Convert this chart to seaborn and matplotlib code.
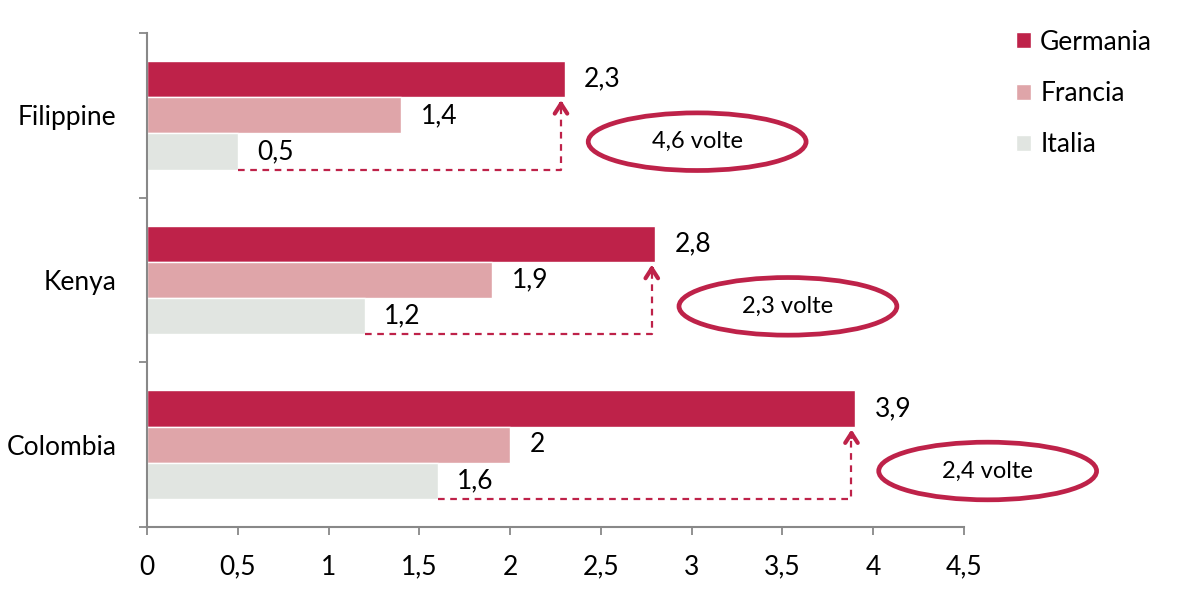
import pandas as pd
import matplotlib.pyplot as plt
import seaborn as sns
from matplotlib.patches import Ellipse

# data
countries = ["Filippine", "Kenya", "Colombia"]
germania = [2.3, 2.8, 3.9]
francia = [1.4, 1.9, 2.0]
italia = [0.5, 1.2, 1.6]
ratio_labels = ["4,6 volte", "2,3 volte", "2,4 volte"]
x_ticks = [0, 0.5, 1, 1.5, 2, 2.5, 3, 3.5, 4, 4.5]

series = ["Germania", "Francia", "Italia"]
colors = ["#BE2249", "#DFA5A9", "#E1E5E1"]
accent = "#BE2249"

df = pd.DataFrame({
    "Paese": countries * 3,
    "Valore": germania + francia + italia,
    "Serie": [s for s in series for _ in countries],
})

sns.set_style("white")
plt.rcParams["font.family"] = ["Lato", "DejaVu Sans"]

fig = plt.figure(figsize=(11.81, 5.96), dpi=100)
ax = fig.add_axes([0.1245, 0.1158, 0.6918, 0.8288])

sns.barplot(data=df, x="Valore", y="Paese", hue="Serie", order=countries,
            hue_order=series, palette=colors, orient="h", width=0.66,
            saturation=1, ax=ax, legend=True)

# value labels with decimal comma
for cont in ax.containers:
    labels = [f"{b.get_width():g}".replace(".", ",") for b in cont]
    ax.bar_label(cont, labels=labels, padding=14, fontsize=19, color="black")

ax.set_xlim(0, 4.5)
ax.set_ylim(2.5, -0.5)
ax.set_xticks(x_ticks)
ax.set_xticklabels([f"{t:g}".replace(".", ",") for t in x_ticks], fontsize=19)
ax.set_yticks([0, 1, 2])
ax.set_yticklabels(countries, fontsize=19)
ax.set_yticks([-0.5, 0.5, 1.5, 2.5], minor=True)
ax.tick_params(axis="y", which="major", left=False, length=0, pad=22,
               labelcolor="black")
ax.tick_params(axis="y", which="minor", left=True, length=6, color="#888888",
               width=1.3)
ax.tick_params(axis="x", bottom=True, length=6, color="#888888", width=1.3,
               pad=14, labelcolor="black")
ax.set_xlabel("")
ax.set_ylabel("")
for side in ["top", "right"]:
    ax.spines[side].set_visible(False)
for side in ["left", "bottom"]:
    ax.spines[side].set_color("#888888")
    ax.spines[side].set_linewidth(1.5)

# dashed connectors, arrows and ellipses
bar_h = 0.22
for i, c in enumerate(countries):
    g, it = germania[i], italia[i]
    y_low = i + 1.5 * bar_h
    y_top = i - 0.5 * bar_h
    gx = g - 0.02
    ax.plot([it, gx, gx], [y_low, y_low, y_top + 0.06], ls=(0, (3, 2.5)),
            color=accent, lw=1.6)
    ax.annotate("", xy=(gx, y_top), xytext=(gx, y_top + 0.08),
                arrowprops=dict(arrowstyle="->,head_length=0.7,head_width=0.45",
                                color=accent, lw=3))
    ex, ey = g + 0.73, i + 0.16
    ax.add_patch(Ellipse((ex, ey), 1.2, 0.35, fill=False, edgecolor=accent,
                         lw=3.4, clip_on=False))
    ax.text(ex, ey, ratio_labels[i], ha="center", va="center", fontsize=17,
            color="black", clip_on=False)

leg = ax.legend(loc="upper left", bbox_to_anchor=(1.035, 1.055), frameon=False,
                fontsize=19, handlelength=0.55, handleheight=0.55,
                handletextpad=0.35, labelspacing=1.0)
for t in leg.get_texts():
    t.set_color("black")

fig.savefig("out.png", dpi=100)
